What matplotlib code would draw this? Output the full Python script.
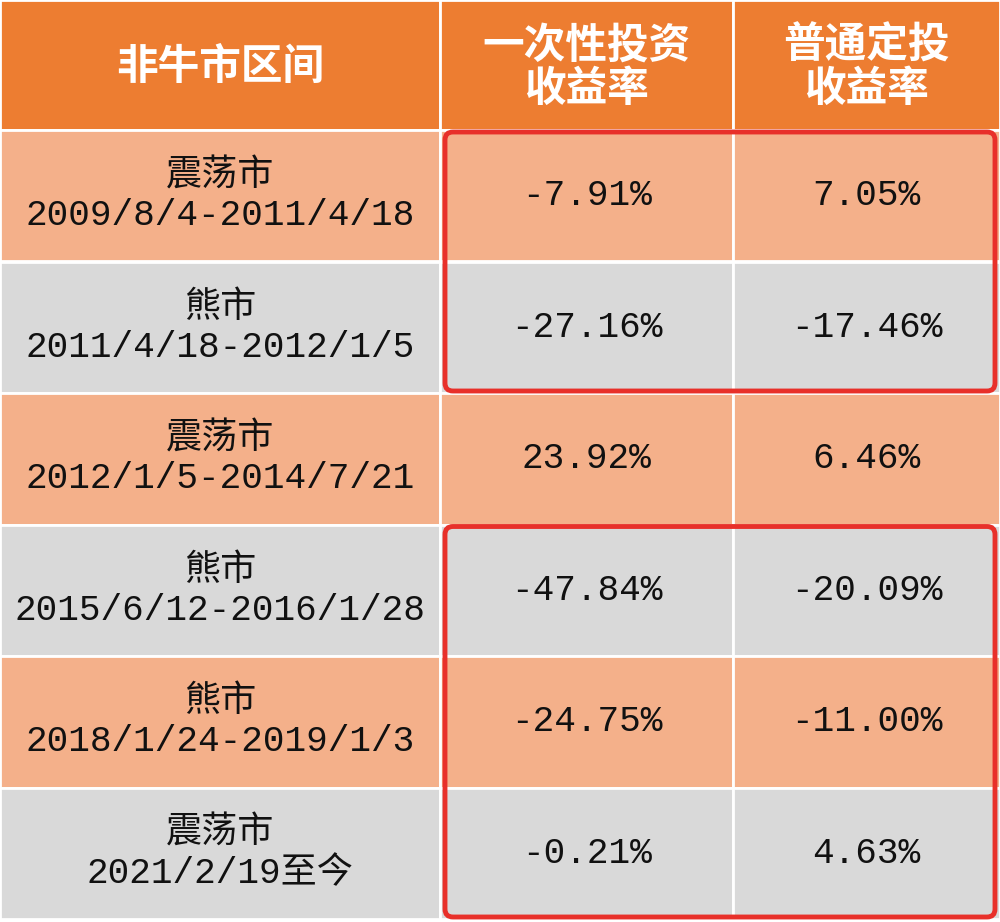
import matplotlib.pyplot as plt
from matplotlib.patches import Rectangle, FancyBboxPatch

headers = ["非牛市区间", "一次性投资\n收益率", "普通定投\n收益率"]
kinds = ["震荡市", "熊市", "震荡市", "熊市", "熊市", "震荡市"]
periods = ["2009/8/4-2011/4/18", "2011/4/18-2012/1/5", "2012/1/5-2014/7/21",
           "2015/6/12-2016/1/28", "2018/1/24-2019/1/3", "2021/2/19至今"]
lump_sum = ["-7.91%", "-27.16%", "23.92%", "-47.84%", "-24.75%", "-0.21%"]
regular = ["7.05%", "-17.46%", "6.46%", "-20.09%", "-11.00%", "4.63%"]

col_x = [0, 440, 733, 1000]
header_h = 130
row_h = 131.5
header_color = "#ED7D31"
row_colors = ["#F4B08A", "#D9D9D9"]
cjk = "Noto Sans CJK SC"
body_font = ["Liberation Mono", cjk]

fig = plt.figure(figsize=(10, 9.22), dpi=100)
ax = fig.add_axes([0, 0, 1, 1])
ax.set_xlim(0, 1000)
ax.set_ylim(922, 0)
ax.axis("off")

# header
for i, h in enumerate(headers):
    ax.add_patch(Rectangle((col_x[i], 0), col_x[i + 1] - col_x[i], header_h,
                           facecolor=header_color, edgecolor="white", lw=2))
    ax.text((col_x[i] + col_x[i + 1]) / 2, header_h / 2 + 2, h, color="white",
            fontsize=30, fontweight="bold", family=cjk, ha="center",
            va="center", linespacing=1.05)

# body rows
for r in range(len(periods)):
    y0 = header_h + r * row_h
    cells = [kinds[r] + "\n" + periods[r], lump_sum[r], regular[r]]
    for i, txt in enumerate(cells):
        ax.add_patch(Rectangle((col_x[i], y0), col_x[i + 1] - col_x[i], row_h,
                               facecolor=row_colors[r % 2], edgecolor="white", lw=2))
        ax.text((col_x[i] + col_x[i + 1]) / 2, y0 + row_h / 2, txt,
                color="#111111", fontsize=26, family=body_font, ha="center",
                va="center", linespacing=1.2)

# red highlight boxes
for first, last in [(0, 1), (3, 5)]:
    y0 = header_h + first * row_h + 2
    y1 = header_h + (last + 1) * row_h - 2
    ax.add_patch(FancyBboxPatch((445, y0), 550, y1 - y0,
                                boxstyle="round,pad=0,rounding_size=8",
                                facecolor="none", edgecolor="#E8302A", lw=3.5))

fig.savefig("out.png", dpi=100)
